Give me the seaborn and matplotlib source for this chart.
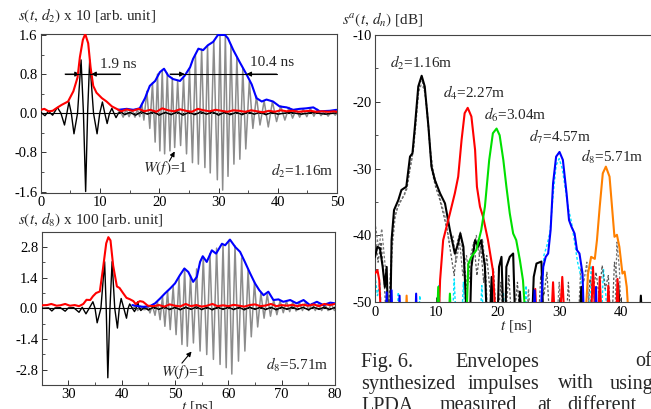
import matplotlib
matplotlib.use("Agg")
import matplotlib.pyplot as plt
from matplotlib.ticker import MultipleLocator, FormatStrFormatter
import seaborn as sns

# ---------------- data ----------------
# top-left panel, d2 = 1.16 m  (t [ns], s x 10)
TL_BLACK = [(0, 0.02), (0.7, -0.05), (1.3, 0.04), (2.0, -0.04), (2.8, 0.12), (3.4, 0.0), (4.0, -0.24),
            (4.4, 0.0), (4.75, 0.23), (5.15, 0.0), (5.6, -0.42), (6.2, 0.0), (6.8, 1.09), (7.2, 0.0),
            (7.57, -1.6), (7.9, 0.0), (8.25, 1.09), (8.9, 0.0), (9.5, -0.42), (9.95, 0.0), (10.4, 0.23),
            (10.8, 0.0), (11.2, -0.21), (11.6, 0.0), (12.0, 0.10), (12.35, 0.0), (12.7, -0.09),
            (13.1, 0.0), (13.5, 0.03), (14.2, -0.03), (15.0, 0.02), (16.0, -0.04), (17.0, 0.03),
            (18.0, -0.02), (19.0, 0.03), (20.0, -0.04), (21.0, 0.02), (22.0, -0.03), (23.0, 0.03),
            (24.0, -0.04), (25.0, 0.02), (26.0, -0.03), (27.0, 0.03), (28.0, -0.02), (29.0, 0.03),
            (30.0, -0.04), (31.0, 0.02), (32.0, -0.03), (33.0, 0.02), (34.0, -0.03), (35.0, 0.03),
            (36.0, -0.02), (37.0, 0.02), (38.0, -0.03), (39.0, 0.02), (40.0, -0.02), (42.0, 0.02),
            (44.0, -0.02), (46.0, 0.02), (48.0, -0.02), (50.0, 0.01)]
TL_RED = [(0, 0.07), (0.6, 0.09), (1.3, 0.04), (2.0, 0.05), (2.6, 0.10), (3.5, 0.17), (4.6, 0.24),
          (5.5, 0.45), (6.2, 0.73), (6.6, 1.15), (7.1, 1.50), (7.5, 1.62), (8.0, 1.43), (8.4, 0.94),
          (8.85, 0.56), (9.4, 0.42), (10.3, 0.31), (11.1, 0.24), (12.0, 0.14), (12.8, 0.09),
          (13.6, 0.04), (14.5, 0.08), (15.5, 0.05), (16.5, 0.09), (17.5, 0.04), (18.5, 0.07),
          (19.5, 0.03), (20.5, 0.10), (21.5, 0.06), (22.5, 0.04), (23.5, 0.08), (24.5, 0.05),
          (25.5, 0.03), (26.5, 0.09), (27.5, 0.06), (28.5, 0.04), (29.5, 0.07), (30.5, 0.05),
          (31.5, 0.03), (32.5, 0.06), (33.5, 0.05), (34.5, 0.03), (35.5, 0.06), (36.5, 0.04),
          (37.5, 0.02), (38.5, 0.05), (39.5, 0.03), (40.5, 0.06), (41.5, 0.04), (42.5, 0.05),
          (43.5, 0.03), (44.5, 0.04), (45.5, 0.05), (46.5, 0.03), (47.5, 0.04), (48.5, 0.03),
          (49.5, 0.04), (50.0, 0.03)]
TL_GRAY = [(13.0, 0.0), (13.4, 0.06), (13.9, -0.08), (14.4, 0.08), (14.9, -0.07), (15.4, 0.07),
           (15.9, -0.08), (16.3, 0.08), (16.7, -0.07), (17.05, 0.2), (17.4, -0.14), (17.9, 0.45),
           (18.4, -0.31), (18.85, 0.62), (19.3, -0.59), (19.7, 0.80), (20.1, -0.77), (20.5, 0.88),
           (20.9, -0.83), (21.35, 0.82), (21.8, -0.77), (22.2, 0.72), (22.6, -0.70), (23.1, 0.67),
           (23.6, -0.66), (24.1, 0.72), (24.6, -0.83), (25.1, 0.92), (25.6, -1.01), (26.1, 1.2),
           (26.6, -1.04), (27.15, 1.31), (27.7, -1.11), (28.15, 1.38), (28.6, -1.22), (29.2, 1.47),
           (29.8, -1.36), (30.25, 1.58), (30.7, -1.57), (31.15, 1.60), (31.6, -1.29), (32.1, 1.40),
           (32.6, -1.04), (33.1, 1.15), (33.6, -0.94), (34.1, 0.92), (34.6, -0.73), (35.2, 0.65),
           (35.8, -0.31), (36.4, 0.35), (37.0, -0.24), (37.7, 0.25), (38.4, -0.28), (39.1, 0.24),
           (39.8, -0.17), (40.5, 0.15), (41.2, -0.14), (41.9, 0.12), (42.5, -0.10), (43.1, 0.08),
           (43.7, -0.08), (44.3, 0.09), (44.9, -0.07), (45.5, 0.10), (46.1, -0.06), (46.7, 0.08),
           (47.3, -0.05), (47.9, 0.05), (48.5, -0.06), (49.1, 0.05), (49.7, -0.04), (50.0, 0.0)]
TL_BLUE = [(13.07, 0.07), (14.5, 0.09), (15.6, 0.07), (16.7, 0.10), (17.6, 0.31), (18.4, 0.56),
           (19.3, 0.66), (20.1, 0.84), (20.8, 0.91), (21.5, 0.77), (22.3, 0.70), (23.5, 0.66),
           (24.3, 0.77), (25.2, 0.94), (25.7, 1.11), (26.6, 1.32), (27.4, 1.29), (28.2, 1.39),
           (29.1, 1.46), (29.9, 1.60), (31.1, 1.60), (31.6, 1.53), (32.5, 1.29), (33.6, 1.04),
           (34.7, 0.80), (35.6, 0.59), (36.4, 0.31), (37.3, 0.24), (38.1, 0.28), (39.2, 0.24),
           (40.3, 0.14), (41.5, 0.12), (42.6, 0.07), (43.7, 0.09), (44.8, 0.10), (46.0, 0.12),
           (47.1, 0.04), (48.8, 0.05), (49.9, 0.07)]

# bottom-left panel, d8 = 5.71 m  (t [ns], s x 100)
BL_BLACK = [(25, 0.0), (26.3, 0.02), (26.9, -0.12), (27.5, 0.02), (28.5, 0.03), (29.4, -0.13),
            (30.0, 0.02), (31.0, 0.03), (32.0, -0.18), (32.6, 0.05), (33.3, -0.25), (33.9, 0.0),
            (34.6, 0.30), (35.0, 0.0), (35.4, -0.66), (36.1, 0.0), (36.8, 2.13), (37.1, 0.0),
            (37.4, -3.17), (37.8, 0.0), (38.2, 2.13), (38.7, 0.0), (39.2, -0.9), (39.55, 0.0),
            (39.9, 0.45), (40.4, 0.0), (40.9, -0.45), (41.2, 0.0), (41.5, 0.2), (42.0, 0.0),
            (42.4, -0.15), (42.7, 0.0), (43.0, 0.3), (43.3, 0.0), (43.6, -0.1), (44.2, 0.05),
            (45.0, -0.08), (46.0, 0.06), (47.0, -0.05), (48.0, 0.07), (49.0, -0.06), (50.0, 0.05),
            (51.0, -0.07), (52.0, 0.06), (53.0, -0.05), (54.0, 0.07), (55.0, -0.06), (56.0, 0.05),
            (57.0, -0.07), (58.0, 0.06), (59.0, -0.05), (60.0, 0.06), (61.0, -0.06), (62.0, 0.05),
            (63.0, -0.07), (64.0, 0.06), (65.0, -0.05), (66.0, 0.06), (67.0, -0.06), (68.0, 0.05),
            (69.0, -0.07), (70.0, 0.06), (71.0, -0.05), (72.0, 0.06), (73.0, -0.06), (74.0, 0.05),
            (75.0, -0.07), (76.0, 0.06), (77.0, -0.05), (78.0, 0.06), (79.0, -0.06), (80.0, 0.05)]
BL_RED = [(25, 0.14), (26, 0.15), (26.8, 0.2), (27.8, 0.12), (28.5, 0.14), (29.4, 0.2), (30.3, 0.12),
          (31.2, 0.15), (32.0, 0.1), (32.8, 0.2), (33.4, 0.39), (34.1, 0.38), (34.6, 0.55),
          (35.2, 0.70), (35.9, 0.77), (36.5, 1.83), (37.1, 2.97), (37.5, 3.25), (37.9, 3.1),
          (38.4, 1.95), (39.1, 1.0), (39.6, 0.93), (40.25, 0.70), (40.9, 0.48), (41.5, 0.42),
          (42.2, 0.33), (42.6, 0.2), (43.4, 0.33), (44.0, 0.30), (44.9, 0.12), (46, 0.1),
          (47, 0.15), (48, 0.08), (49, 0.18), (50, 0.12), (51, 0.09), (52, 0.2), (53, 0.1),
          (54, 0.15), (55, 0.08), (56, 0.12), (57, 0.2), (58, 0.1), (59, 0.14), (60, 0.1),
          (61, 0.16), (62, 0.12), (63, 0.08), (64, 0.15), (65, 0.18), (66, 0.1), (67, 0.13),
          (68, 0.2), (69, 0.1), (70, 0.15), (71, 0.12), (72, 0.16), (73, 0.1), (74, 0.17),
          (75, 0.12), (76, 0.18), (77, 0.1), (78, 0.2), (79, 0.15), (80, 0.2)]
BL_GRAY = [(42.0, 0.0), (42.5, 0.08), (43.0, -0.1), (43.5, 0.1), (44.0, -0.05), (44.4, -0.06),
           (44.85, 0.1), (45.3, -0.21), (45.75, 0.15), (46.25, -0.32), (46.7, 0.3), (47.2, -0.52),
           (47.65, 0.55), (48.1, -0.82), (48.6, 0.8), (49.1, -0.97), (49.65, 1.0), (50.2, -1.2),
           (50.75, 1.4), (51.3, -1.65), (51.8, 1.82), (52.3, -1.73), (52.9, 1.5), (53.45, -1.58),
           (54.05, 1.8), (54.7, -1.95), (55.3, 2.35), (55.95, -2.11), (56.55, 2.5), (57.2, -2.33),
           (57.8, 2.75), (58.45, -2.56), (59.0, 2.9), (59.6, -2.71), (60.1, 3.1), (60.65, -3.0),
           (61.25, 2.85), (61.9, -2.41), (62.5, 2.3), (63.1, -1.95), (63.7, 1.75), (64.3, -1.3),
           (64.9, 1.2), (65.5, -0.85), (66.1, 0.7), (66.7, -0.45), (67.3, 0.65), (67.9, -0.36),
           (68.5, 0.38), (69.1, -0.29), (69.7, 0.35), (70.3, -0.2), (70.9, 0.32), (71.5, -0.15),
           (72.1, 0.3), (72.7, -0.12), (73.3, 0.28), (73.9, -0.1), (74.5, 0.3), (75.1, -0.1),
           (75.7, 0.22), (76.3, -0.1), (76.9, 0.2), (77.5, -0.1), (78.1, 0.18), (78.7, -0.1),
           (79.3, 0.2), (79.9, -0.1)]
BL_BLUE = [(42.0, 0.15), (43.0, 0.1), (44.06, 0.07), (45.3, 0.1), (46.26, 0.23), (47.2, 0.45),
           (48.1, 0.68), (49.1, 0.91), (50.0, 1.14), (50.9, 1.51), (51.75, 1.82), (52.5, 1.66),
           (53.4, 1.21), (54.1, 1.44), (54.7, 2.12), (55.2, 2.38), (55.95, 2.12), (56.9, 2.65),
           (57.7, 2.5), (58.8, 2.95), (59.4, 2.88), (60.3, 3.14), (61.3, 2.8), (62.2, 2.58),
           (63.1, 2.12), (64.1, 1.59), (65.0, 1.14), (65.8, 0.83), (66.6, 0.6), (67.5, 0.76),
           (68.45, 0.38), (69.4, 0.41), (70.3, 0.3), (71.6, 0.38), (72.8, 0.23), (74.1, 0.38),
           (75.3, 0.15), (76.6, 0.3), (77.8, 0.15), (79.1, 0.26), (80.0, 0.23)]

# right panel: envelopes in dB (t [ns], dB)
R_D2 = [(0, -43.2), (0.38, -41.7), (0.8, -41.9), (1.25, -44.7), (1.6, -47.7), (1.9, -44.7), (2.2, -55),
        (2.45, -55), (2.7, -40.7), (3.1, -36.2), (3.8, -34.7), (4.3, -33.2), (5.1, -32.7), (5.7, -28.2),
        (6.1, -27.7), (6.5, -23.7), (7.05, -17.7), (7.6, -16.1), (8.1, -17.7), (8.7, -23.7),
        (9.2, -29.7), (9.75, -31.7), (10.6, -33.7), (11.4, -35.2), (12.2, -39.2), (13.0, -42.7),
        (13.55, -41.2), (13.9, -39.7), (14.4, -41.7), (14.8, -49.7), (15.0, -55), (15.4, -55),
        (15.7, -44.7), (16.3, -40.7), (16.8, -41.7), (17.3, -40.7), (17.9, -44.7), (18.3, -55),
        (18.6, -55), (19.0, -46.2), (19.3, -55), (19.9, -55), (20.2, -44.7), (20.6, -43.2),
        (21.0, -55), (21.2, -55), (21.4, -44.7), (21.95, -43.2), (22.5, -42.7), (22.9, -55),
        (23.3, -55), (23.6, -48.4), (24.0, -55), (25.5, -55), (25.85, -46.2), (26.3, -44.2),
        (27.1, -43.9), (27.5, -55), (33.2, -55), (33.6, -47.7), (34.0, -55), (39.3, -55),
        (39.6, -47.2), (40.1, -55), (43.0, -55), (43.3, -49.0), (43.6, -55), (50, -55)]
R_D4 = [(0, -45.7), (0.4, -45.2), (0.7, -46.7), (1.1, -55), (10.3, -55), (10.6, -46.7), (11.1, -40.7),
        (11.65, -38.7), (12.2, -36.7), (13.0, -33.7), (13.55, -31.2), (14.1, -25.7), (14.6, -21.7),
        (15.1, -20.9), (15.7, -22.2), (16.3, -27.2), (16.6, -32.7), (17.1, -35.7), (17.6, -37.2),
        (18.4, -40.7), (19.2, -45.2), (19.8, -55), (25.8, -55), (26.1, -48.0), (26.4, -55),
        (28.6, -55), (29.0, -47.0), (29.4, -55), (30.0, -55), (30.5, -46.2), (31.0, -55),
        (35.1, -55), (35.5, -44.7), (36.0, -55), (36.3, -55), (36.6, -46.2), (37.0, -55),
        (37.7, -55), (38.0, -47.5), (38.4, -55), (39.2, -55), (39.5, -46.5), (39.9, -55), (50, -55)]
R_D6 = [(0, -55), (10.0, -55), (10.3, -47.7), (10.6, -55), (11.9, -55), (12.2, -48.7), (12.5, -55),
        (14.8, -55), (15.2, -44.2), (15.7, -43.2), (16.5, -42.2), (17.3, -39.2), (17.9, -35.7),
        (18.6, -28.7), (19.2, -24.7), (19.8, -24.0), (20.3, -25.0), (20.9, -28.7), (21.4, -32.7),
        (21.95, -36.7), (22.5, -39.7), (23.0, -40.7), (23.6, -43.7), (24.1, -46.7), (24.7, -55),
        (50, -55)]
R_D7 = [(0, -55), (1.7, -55), (1.9, -48.5), (2.1, -55), (2.5, -55), (2.7, -48.2), (2.9, -55),
        (3.8, -55), (4.0, -49.0), (4.2, -55), (6.5, -55), (6.7, -48.7), (6.9, -55), (25.7, -55),
        (26.0, -48.2), (26.3, -55), (26.8, -55), (27.4, -44.7), (27.8, -43.2), (28.2, -42.7),
        (28.6, -39.2), (29.0, -32.2), (29.5, -28.2), (30.05, -27.5), (30.6, -28.7), (31.2, -33.7),
        (31.6, -37.7), (32.0, -38.7), (32.5, -39.7), (32.9, -42.2), (33.3, -42.7), (33.8, -45.7),
        (34.1, -55), (35.8, -55), (36.0, -47.7), (36.2, -55), (50, -55)]
R_D8 = [(0, -55), (4.9, -55), (5.15, -49.0), (5.4, -55), (34.1, -55), (34.7, -45.7), (35.2, -43.2),
        (35.8, -43.5), (36.15, -40.7), (36.6, -35.7), (37.1, -30.7), (37.6, -29.7), (38.2, -31.2),
        (38.6, -35.7), (39.0, -40.2), (39.4, -39.9), (39.8, -41.7), (40.3, -45.7), (40.65, -45.4),
        (41.0, -47.7), (41.5, -55), (50, -55)]
R_GRAY1 = [(0, -40), (0.5, -44), (1.0, -41), (1.5, -47), (2.0, -55), (2.6, -44), (3.0, -38), (3.6, -36),
           (4.4, -34.5), (5.2, -33), (5.8, -29.5), (6.3, -27), (6.8, -21), (7.3, -17), (7.7, -16.8),
           (8.2, -19), (8.7, -24), (9.2, -30), (9.8, -32.5), (10.5, -34.5), (11.2, -37), (11.8, -39.5),
           (12.4, -43), (12.9, -46), (13.4, -41), (13.9, -39.5), (14.5, -44), (15.0, -48), (15.6, -43),
           (16.1, -41), (16.6, -46), (17.2, -41.5), (17.7, -47), (18.2, -43), (18.8, -49), (19.3, -45),
           (19.9, -55), (20.5, -47), (21.0, -55), (21.8, -46), (22.4, -55), (23.2, -47), (23.8, -55),
           (26.5, -55), (27.0, -46), (27.5, -49), (28.0, -45.5), (28.6, -55), (31.0, -55), (31.5, -47),
           (32.0, -55), (34.5, -55), (35.0, -46.5), (35.5, -48.5), (36.0, -45.5), (36.5, -49),
           (37.0, -44.5), (37.5, -48), (38.0, -46), (38.5, -55), (39.0, -44), (39.5, -47), (40.0, -55),
           (50, -55)]
R_GRAY2 = [(0, -38), (0.6, -42), (1.1, -39), (1.7, -45), (2.2, -55), (2.8, -42), (3.3, -37), (4.0, -35),
           (4.8, -34), (5.5, -31), (6.0, -28.5), (6.6, -24), (7.1, -18.5), (7.5, -17.5), (8.0, -18),
           (8.5, -21), (9.0, -27), (9.5, -30.5), (10.2, -33), (10.9, -35.5), (11.5, -37.5), (12.1, -41),
           (12.7, -40), (13.2, -44), (13.8, -41), (14.3, -46), (14.9, -43), (15.5, -47), (16.0, -42),
           (16.5, -40), (17.0, -43), (17.5, -40.5), (18.0, -45), (18.5, -55), (24.5, -55), (25.0, -48),
           (25.5, -55), (29.5, -55), (30.0, -47), (30.5, -55), (33.0, -55), (33.5, -45), (34.0, -47),
           (34.5, -44), (35.0, -55), (39.0, -55), (39.4, -41), (39.8, -45), (40.2, -55), (50, -55)]
R_CYAN = [(0, -46), (0.4, -49), (0.8, -47), (1.2, -55), (3.5, -55), (3.8, -48.5), (4.1, -55), (7.0, -55),
          (7.3, -49), (7.6, -55), (10.0, -55), (10.4, -47.5), (10.8, -55), (12.5, -55), (12.9, -46.5),
          (13.3, -55), (14.0, -55), (14.4, -47), (14.8, -55), (17.0, -55), (17.4, -47.5), (17.8, -55),
          (20.5, -55), (20.9, -48.5), (21.3, -55), (24.2, -55), (24.6, -47.5), (25.0, -55), (27.0, -55),
          (27.5, -43), (28.0, -41.5), (28.5, -39.5), (29.0, -34), (29.5, -29.5), (30.0, -28.5),
          (30.5, -30), (31.0, -33), (31.5, -36), (32.0, -38), (32.5, -41), (33.0, -44), (33.5, -46),
          (34.0, -55), (34.8, -55), (35.2, -44.5), (35.6, -48), (36.0, -55), (36.8, -55), (37.2, -45),
          (37.6, -49), (38.0, -55), (50, -55)]

R_LABELS = [(2.4, -14.2, r"$d_2$=1.16m"), (11.0, -18.7, r"$d_4$=2.27m"), (17.7, -22.0, r"$d_6$=3.04m"),
            (25.1, -25.2, r"$d_7$=4.57m"), (33.6, -28.2, r"$d_8$=5.71m")]

TL_YTICKS = [-1.6, -0.8, 0.0, 0.8, 1.6]
BL_YTICKS = [-2.8, -1.4, 0.0, 1.4, 2.8]
R_YTICKS = [-50, -40, -30, -20, -10]

CAPTION_WORDS = [(361, 362, "Fig. 6."), (455, 362, "Envelopes"), (635, 362, "of"),
                 (361, 384, "synthesized"), (468, 384, "impulses"), (558, 384, "with"), (610, 384, "using"),
                 (361, 406, "LPDA,"), (440, 406, "measured"), (537, 406, "at"), (567, 406, "different")]

# ---------------- style ----------------
sns.set_theme(style="ticks")
plt.rcParams["font.family"] = ["Liberation Serif", "DejaVu Serif"]
plt.rcParams["mathtext.fontset"] = "stix"
plt.rcParams["axes.unicode_minus"] = False
FS = 10.5
W, H = 651, 409


def fx(x):
    return x / W


def fy(y):
    return 1 - y / H


fig = plt.figure(figsize=(W / 100, H / 100), dpi=100)
fig.patch.set_facecolor("white")


def style_axes(ax, xmaj, xmin, ymin):
    ax.xaxis.set_major_locator(MultipleLocator(xmaj))
    ax.xaxis.set_minor_locator(MultipleLocator(xmin))
    ax.yaxis.set_minor_locator(MultipleLocator(ymin))
    ax.tick_params(which="both", direction="in", top=False, right=False, labelsize=FS,
                   colors="#333333", labelcolor="black")
    ax.tick_params(which="major", length=3.5, width=0.7, pad=2.5)
    ax.tick_params(which="minor", length=2, width=0.6)
    for s in ax.spines.values():
        s.set_color("#444444")
        s.set_linewidth(0.8)
        s.set_visible(True)
    ax.set_xlabel("")
    ax.set_ylabel("")
    ax.set_facecolor("white")


def line(ax, pairs, color, lw, ls="-", z=2):
    xs = [p[0] for p in pairs]
    ys = [p[1] for p in pairs]
    sns.lineplot(x=xs, y=ys, ax=ax, color=color, lw=lw, linestyle=ls, estimator=None,
                 sort=False, zorder=z, legend=False)


def arrow(ax, start, tip):
    ax.annotate("", xy=tip, xytext=start,
                arrowprops=dict(arrowstyle="-|>", color="black", lw=0.8, mutation_scale=7,
                                shrinkA=0, shrinkB=0))


# ---------- top-left ----------
ax1 = fig.add_axes([fx(40.8), fy(192.5), fx(337 - 40.8), (192.5 - 34) / H])
ax1.axhline(0, color="black", lw=0.8, zorder=1)
line(ax1, TL_GRAY, "#8c8c8c", 1.1, z=2)
line(ax1, TL_BLACK, "black", 1.0, z=3)
line(ax1, TL_BLUE, "#0000ff", 1.5, z=4)
line(ax1, TL_RED, "#ff0000", 1.5, z=4)
ax1.set_xlim(0, 50)
ax1.set_ylim(-1.62, 1.62)
ax1.set_yticks(TL_YTICKS)
ax1.yaxis.set_major_formatter(FormatStrFormatter("%.1f"))
style_axes(ax1, 10, 5, 0.4)
ax1.plot([4.1, 13.4], [0.8, 0.8], color="black", lw=0.8, zorder=5)
arrow(ax1, (4.1, 0.8), (6.6, 0.8))
arrow(ax1, (13.4, 0.8), (8.5, 0.8))
ax1.text(10.0, 1.0, "1.9 ns", fontsize=FS + 0.5, ha="left", va="center")
ax1.plot([21.8, 39.8], [0.8, 0.8], color="black", lw=0.8, zorder=5)
arrow(ax1, (21.8, 0.8), (24.3, 0.8))
arrow(ax1, (39.8, 0.8), (34.7, 0.8))
ax1.text(35.3, 1.03, "10.4 ns", fontsize=FS + 0.5, ha="left", va="center")
ax1.text(17.2, -1.12, r"$W(f)$=1", fontsize=FS + 0.5, ha="left", va="center")
arrow(ax1, (21.7, -0.98), (22.6, -0.78))
ax1.text(49.4, -1.18, r"$d_2$=1.16m", fontsize=FS + 0.5, ha="right", va="center")
fig.text(fx(18), fy(16), r"$s(t,\, d_2)$ x 10 [arb. unit]", fontsize=FS + 0.5, ha="left", va="center")

# ---------- bottom-left ----------
ax2 = fig.add_axes([fx(41.7), fy(385), fx(335 - 41.7), (385 - 231.7) / H])
ax2.axhline(0, color="black", lw=0.8, zorder=1)
line(ax2, BL_GRAY, "#8c8c8c", 1.1, z=2)
line(ax2, BL_BLACK, "black", 1.0, z=3)
line(ax2, BL_BLUE, "#0000ff", 1.5, z=4)
line(ax2, BL_RED, "#ff0000", 1.5, z=4)
ax2.set_xlim(25, 80)
ax2.set_ylim(-3.5, 3.5)
ax2.set_yticks(BL_YTICKS)
ax2.yaxis.set_major_formatter(FormatStrFormatter("%.1f"))
style_axes(ax2, 10, 5, 0.7)
ax2.set_xticks([30, 40, 50, 60, 70, 80])
ax2.text(47.3, -2.92, r"$W(f)$=1", fontsize=FS + 0.5, ha="left", va="center")
arrow(ax2, (51.3, -2.5), (53.1, -1.97))
ax2.text(78.8, -2.58, r"$d_8$=5.71m", fontsize=FS + 0.5, ha="right", va="center")
fig.text(fx(18), fy(220), r"$s(t,\, d_8)$ x 100 [arb. unit]", fontsize=FS + 0.5, ha="left", va="center")
fig.text(fx(197), fy(407), r"$t$ [ns]", fontsize=FS + 0.5, ha="center", va="center")

# ---------- right ----------
ax3 = fig.add_axes([fx(375), fy(302.3), fx(682 - 375), (302.3 - 35) / H])
line(ax3, R_CYAN, "#00e5ff", 1.0, ls=(0, (2, 1.5)), z=2)
line(ax3, R_GRAY1, "#555555", 0.9, ls=(0, (2, 1.5)), z=2)
line(ax3, R_GRAY2, "#777777", 0.9, ls=(0, (2, 1.5)), z=2)
line(ax3, R_D2, "black", 1.5, z=4)
line(ax3, R_D4, "#ff0000", 1.5, z=4)
line(ax3, R_D6, "#00e000", 1.5, z=4)
line(ax3, R_D7, "#0000ff", 1.5, z=4)
line(ax3, R_D8, "#ff8000", 1.5, z=4)
ax3.set_xlim(0, 50)
ax3.set_ylim(-50, -10)
ax3.set_yticks(R_YTICKS)
style_axes(ax3, 10, 5, 5)
ax3.yaxis.set_major_formatter(FormatStrFormatter("%d"))
for t, v, s in R_LABELS:
    ax3.text(t, v, s, fontsize=FS + 0.5, ha="left", va="center")
fig.text(fx(516), fy(326), r"$t$ [ns]", fontsize=FS + 0.5, ha="center", va="center")
fig.text(fx(342), fy(20), r"$s^{a}(t,\, d_{n})$ [dB]", fontsize=FS + 0.5, ha="left", va="center")

# caption (justified words)
CAP = 14.5
for x, y, w in CAPTION_WORDS:
    fig.text(fx(x), fy(y), w, fontsize=CAP, ha="left", va="center")

fig.savefig("out.png", dpi=100)
